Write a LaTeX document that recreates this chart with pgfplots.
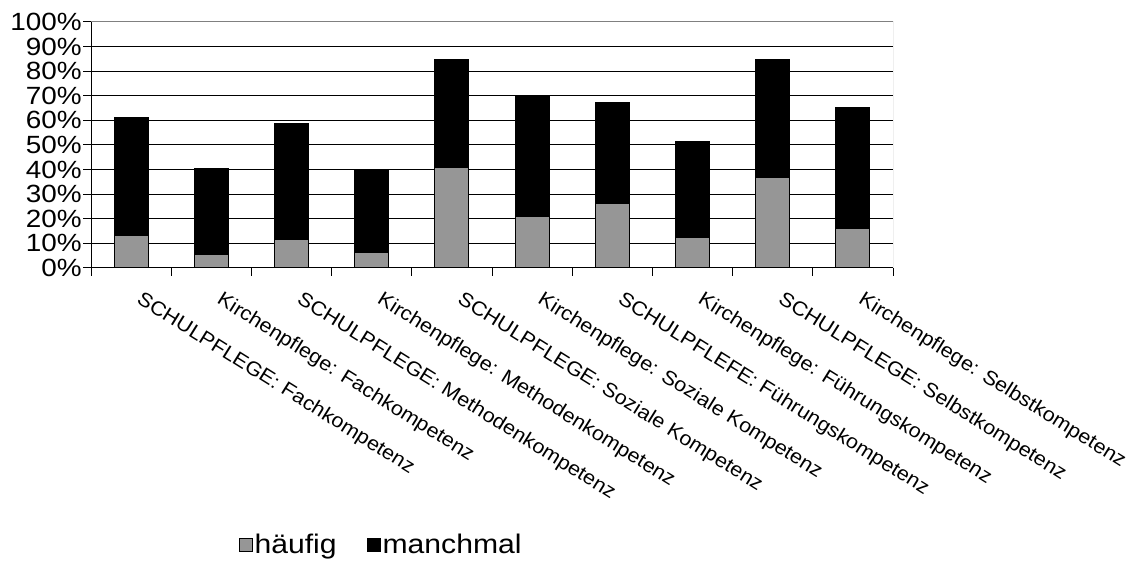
\documentclass[border=0pt]{standalone}
\usepackage{pgfplots}
\pgfplotsset{compat=1.18}
\usepackage{fontspec}
\setmainfont{Liberation Sans}[FakeStretch=1.08]
\newfontfamily\widefont{Liberation Sans}[FakeStretch=1.12]
\definecolor{haeufig}{RGB}{150,150,150}
\definecolor{framegray}{RGB}{128,128,128}
\begin{document}
\begin{tikzpicture}[x=1bp,y=1bp]
\useasboundingbox (0,0) rectangle (1129,570);
\begin{axis}[
  at={(91bp,302bp)}, anchor=south west,
  width=802bp, height=246bp, scale only axis,
  ybar stacked, bar width=34bp,
  xmin=-0.5, xmax=9.5, ymin=0, ymax=100,
  axis x line*=bottom, axis y line*=left,
  axis line style={black, line width=1bp, -},
  xtick={0,...,9},
  xticklabels={SCHULPFLEGE: Fachkompetenz, Kirchenpflege: Fachkompetenz,
    SCHULPFLEGE: Methodenkompetenz, Kirchenpflege: Methodenkompetenz,
    SCHULPFLEGE: Soziale Kompetenz, Kirchenpflege: Soziale Kompetenz,
    SCHULPFLEFE: Führungskompetenz, Kirchenpflege: Führungskompetenz,
    SCHULPFLEGE: Selbstkompetenz, Kirchenpflege: Selbstkompetenz},
  minor xtick={-0.5,0.5,...,9.5},
  major x tick style={draw=none},
  minor tick style={black, line width=1bp},
  major tick style={black, line width=1bp},
  tick align=outside, major tick length=8bp, minor tick length=8bp,
  xticklabel style={xshift=12bp, yshift=-13bp, rotate=-32, anchor=north west,
    font=\fontsize{20}{24}\selectfont, inner sep=1bp},
  ytick={0,10,...,100},
  yticklabel={\pgfmathprintnumber{\tick}\%},
  yticklabel style={font=\widefont\fontsize{25}{28}\selectfont, inner sep=1bp},
  /pgf/number format/assume math mode=true,
  ymajorgrids, grid style={black, line width=1bp},
  legend style={at={(0.18,-1.126)}, anchor=west, draw=none, fill=none,
    legend columns=2, font=\widefont\fontsize{27}{30}\selectfont,
    /tikz/every even column/.append style={column sep=28bp}},
  legend image code/.code={\draw[#1,draw=black,line width=1bp] (0bp,-6.5bp) rectangle (13bp,6.5bp);},
]
\addplot[fill=haeufig, draw=black, line width=1bp] coordinates {
  (0,13.4) (1,5.3) (2,11.5) (3,6.4) (4,40.9)
  (5,20.8) (6,26.3) (7,12.2) (8,36.8) (9,16.1)};
\addplot[fill=black, draw=black, line width=1bp] coordinates {
  (0,47.8) (1,35.2) (2,47.1) (3,33.2) (4,43.7)
  (5,48.8) (6,41.0) (7,39.4) (8,47.9) (9,49.1)};
\legend{häufig, manchmal}
\draw[framegray, line width=1bp] (rel axis cs:0,1) -- (rel axis cs:1,1) -- (rel axis cs:1,0);
\end{axis}
\end{tikzpicture}
\end{document}
